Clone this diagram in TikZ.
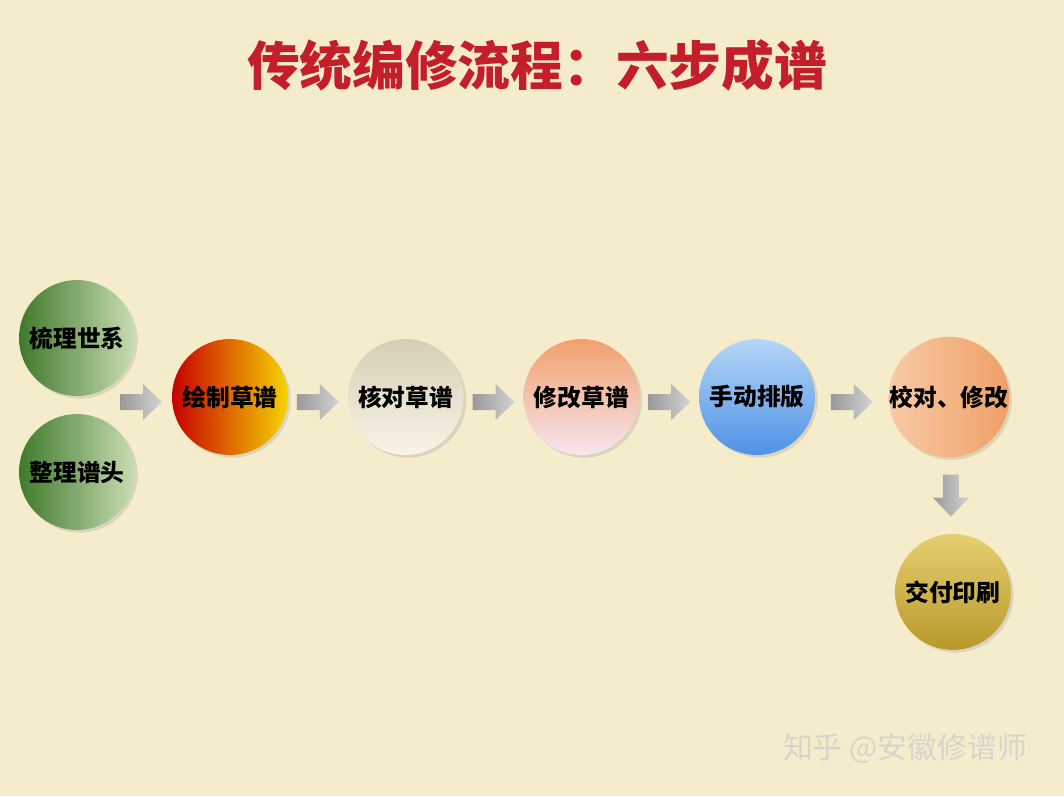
\documentclass[tikz,border=0pt]{standalone}
\usepackage{fontspec}
\newfontfamily\cjk{Noto Sans CJK SC}
\usepackage{tikz}
\usetikzlibrary{positioning,shadows,fadings,calc}

\definecolor{paper}{HTML}{F5ECCC}
\definecolor{titlered}{HTML}{C41E2A}
\definecolor{greenD}{HTML}{3F7A2C}
\definecolor{greenL}{HTML}{C9DDB2}
\definecolor{redD}{HTML}{C80000}
\definecolor{redM}{HTML}{F45A10}
\definecolor{redL}{HTML}{F4D400}
\definecolor{creamD}{HTML}{D6CFB6}
\definecolor{creamL}{HTML}{F8F4E6}
\definecolor{peachD}{HTML}{F2A06C}
\definecolor{peachM}{HTML}{F8C8A2}
\definecolor{peachL}{HTML}{F6E6F0}
\definecolor{blueL}{HTML}{B6D6F6}
\definecolor{blueD}{HTML}{4F92E6}
\definecolor{orgL}{HTML}{F8CAA6}
\definecolor{orgM}{HTML}{F2A842}
\definecolor{orgR}{HTML}{E890A6}
\definecolor{goldL}{HTML}{E6CF70}
\definecolor{goldD}{HTML}{B8982A}
\definecolor{markgray}{HTML}{D8D4CC}

% rim of the balls
\pgfdeclareradialshading{rimshade}{\pgfpointorigin}{color(0bp)=(black); color(34bp)=(black); color(50bp)=(white!50!black)}
\pgfdeclarefading{rim}{\pgfuseshading{rimshade}}

\begin{document}
\begin{tikzpicture}[
		x=0.02cm, y=-0.02cm,
		node distance=1.18cm,
		ball/.style={
			circle,
			minimum size=2.32cm,
			inner sep=0pt,
			text=black,
			font=\cjk\bfseries\fontsize{13.5}{15}\selectfont,
			drop shadow={opacity=0.22, shadow xshift=1.5pt, shadow yshift=-1.5pt}
		},
		title/.style={
			font=\cjk\bfseries\fontsize{30}{32}\selectfont
		},
		wmark/.style={
			font=\cjk\fontsize{17}{19}\selectfont
		},
		rarrow/.pic={
			\shade[left color=gray!80, middle color=gray!55, right color=gray!35]
			(-21,-8) -- (2,-8) -- (2,-18) -- (21,0) -- (2,18) -- (2,8) -- (-21,8) -- cycle;
		}
		]
		% background
		\fill[paper] (0,0) rectangle (1064,796);
		\useasboundingbox (0,0) rectangle (1064,796);
		
		% title
		\node [title, text=titlered] (title) at (537,65) {传统编修流程：六步成谱};
		
		% We start by placing the balls
		\node [ball, left color=greenD, right color=greenL] (sort) at (77,338) {梳理世系};
		\node [ball, left color=greenD, right color=greenL] (head) at (77,472) {整理谱头};
		
		\node [ball, left color=redD, middle color=redM, right color=redL] (draft) at (230,397) {绘制草谱};
		\node [ball, top color=creamD, bottom color=creamL, right=of draft] (check) {核对草谱};
		\node [ball, top color=peachD, middle color=peachM, bottom color=peachL, right=of check] (edit) {修改草谱};
		\node [ball, top color=blueL, bottom color=blueD, right=of edit] (layout) {手动排版};
		\node [ball, left color=orgL, middle color=orgM, right color=orgM!65!orgR, right=1.46cm of layout] (proof) {校对、修改};
		\node [ball, top color=goldL, middle color=goldD!80!goldL, bottom color=goldD, below=1.52cm of proof, xshift=0.08cm] (print) {交付印刷};
		
		\foreach \n in {sort,head,draft,check,edit,layout,proof,print}
		\fill[black, path fading=rim, fit fading=true] (\n.center) circle[radius=58];
		
		% block arrows
		\pic at (141,402) {rarrow};
		\pic at ($(draft.east)!0.5!(check.west)+(0,5)$) {rarrow};
		\pic at ($(check.east)!0.5!(edit.west)+(0,5)$) {rarrow};
		\pic at ($(edit.east)!0.5!(layout.west)+(0,5)$) {rarrow};
		\pic at ($(layout.east)!0.5!(proof.west)+(0,5)$) {rarrow};
		\pic [rotate=-90] at ($(proof.south)!0.5!(print.north)$) {rarrow};
		
		% watermark
		\node [wmark, text=markgray] (zhihu) at (905,748) {知乎 @安徽修谱师};
		
\end{tikzpicture}
\end{document}
